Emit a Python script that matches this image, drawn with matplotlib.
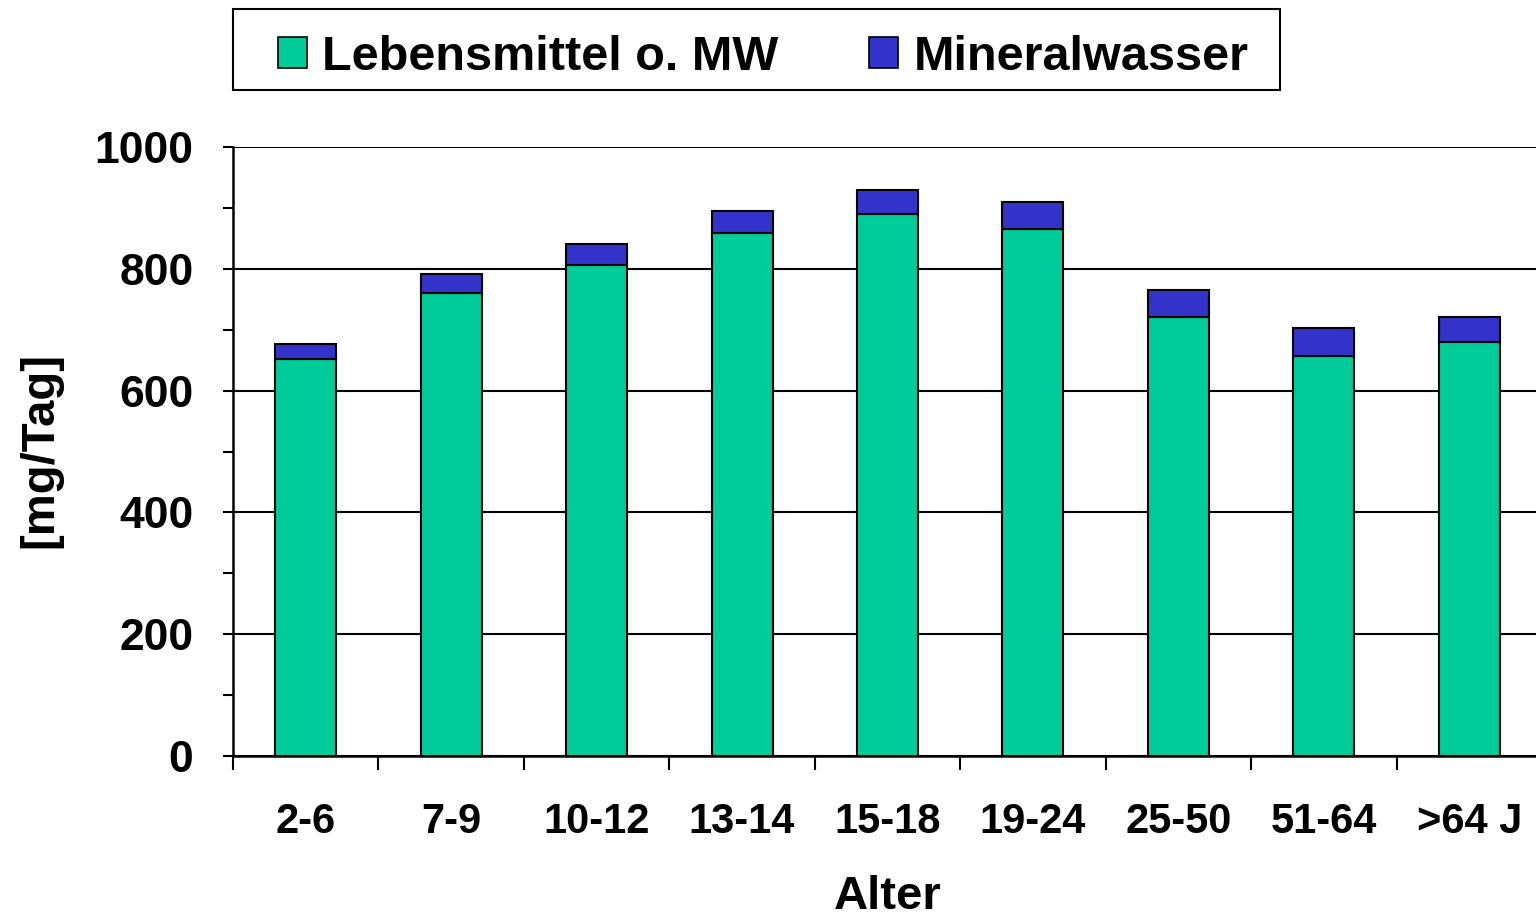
import matplotlib
matplotlib.use("Agg")
import matplotlib.pyplot as plt
import numpy as np
from matplotlib.patches import Patch, Rectangle

categories = ["2-6", "7-9", "10-12", "13-14", "15-18", "19-24", "25-50", "51-64", ">64 J"]
lebensmittel = [652, 761, 806, 859, 890, 866, 721, 656, 679]
mineralwasser = [24, 30, 35, 36, 39, 44, 44, 47, 42]

green = "#00CC99"
blue = "#3333CC"

plt.rcParams['font.family'] = ['Liberation Sans', 'DejaVu Sans']
plt.rcParams['font.weight'] = 'bold'

W, H = 1536, 915
fig = plt.figure(figsize=(W / 100, H / 100), dpi=100)
ax = fig.add_axes([233 / W, 1 - 756 / H, (1542 - 233) / W, (756 - 147) / H])

x = np.arange(len(categories))
ax.set_axisbelow(True)
ax.bar(x, lebensmittel, width=0.42, color=green, edgecolor="black", linewidth=1.5, zorder=3)
ax.bar(x, mineralwasser, width=0.42, bottom=lebensmittel, color=blue, edgecolor="black", linewidth=1.5, zorder=3)

ax.set_xlim(-0.5, len(categories) - 0.5)
ax.set_ylim(0, 1000)
ax.set_yticks(np.arange(0, 1001, 200))
ax.set_yticks(np.arange(100, 1000, 200), minor=True)
ax.yaxis.grid(True, which="major", color="black", linewidth=1.5)

for s in ["top", "right"]:
    ax.spines[s].set_visible(False)
for s in ["left", "bottom"]:
    ax.spines[s].set_linewidth(1.8)

ax.tick_params(axis="y", which="both", direction="out", length=7, width=1.5, labelsize=32, pad=21.5)
ax.set_xticks(x)
ax.set_xticklabels(categories)
ax.set_xticks(np.arange(-0.5, len(categories), 1), minor=True)
ax.tick_params(axis="x", which="major", length=0, labelsize=30, pad=33)
ax.tick_params(axis="x", which="minor", direction="out", length=10, width=1.5)
for lbl in ax.get_xticklabels() + ax.get_yticklabels():
    lbl.set_fontweight("bold")

ax.set_xlabel("Alter", fontsize=34, fontweight="bold", labelpad=24)
fig.text(40 / W, 1 - 450 / H, "[mg/Tag]", rotation=90, fontsize=34, fontweight="bold",
         ha="center", va="center")

handles = [Patch(facecolor=green, edgecolor="black", linewidth=1.2),
           Patch(facecolor=blue, edgecolor="black", linewidth=1.2)]
leg = fig.legend(handles, ["Lebensmittel o. MW", "Mineralwasser"], loc="center",
                 bbox_to_anchor=(763 / W, 1 - 57 / H), ncol=2,
                 prop={"weight": "bold", "size": 35},
                 frameon=False,
                 handlelength=0.6, handleheight=0.6, handletextpad=0.32,
                 columnspacing=1.85, borderpad=0, borderaxespad=0)
fig.add_artist(Rectangle((233 / W, 1 - 90 / H), (1280 - 233) / W, 81 / H,
                         transform=fig.transFigure, facecolor="none",
                         edgecolor="black", linewidth=1.5))

fig.savefig("out.png", dpi=100)
